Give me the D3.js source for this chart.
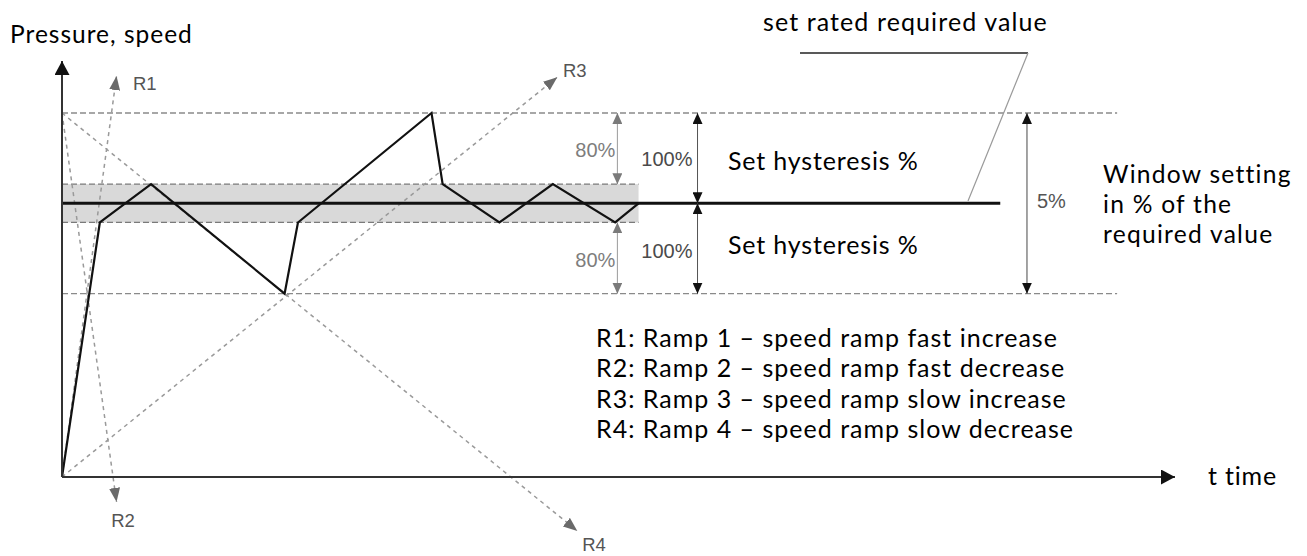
<!DOCTYPE html>
<html>
<head>
<meta charset="utf-8">
<script src="https://cdn.jsdelivr.net/npm/d3@7"></script>
<style>
  html, body { margin: 0; padding: 0; background: #fff; }
  svg { display: block; }
  .lbl { font-family: Lato, "Open Sans", sans-serif; fill: #000; }
  .glbl { font-family: "Liberation Sans", Arial, sans-serif; }
</style>
</head>
<body>
<svg id="chart" width="1307" height="556"></svg>
<script>
// ---------------- data ----------------
const setpoint = 100;                 // rated required value
const windowLevels = [67, 133];       // window (5 %) lower / upper
const hystLevels = [93, 107];         // 80 % hysteresis band lower / upper
const responseT = [0, 3.4, 8.0, 20.0, 21.2, 33.2, 34.2, 39.3, 44.1, 49.7, 51.8];
const responseV = [0, 93, 107, 67, 93, 133, 107, 93, 107, 93, 100];
const rampNames = ["R1", "R2", "R3", "R4"];
const rampStartV = [0, 133, 0, 133];
const rampEndT = [4.9, 4.9, 44.5, 46.3];
const rampEndV = [146.5, -9.1, 146.1, -19.7];
const bandEndT = 51.8;
const setpointEndT = 84.3;
const windowEndT = 94.8;
const arrowT = [49.9, 57.1, 86.7];    // 80 %, 100 %, 5 % dimension arrows
const arrowLabels = ["80%", "100%", "5%"];
const legendLines = [
  "R1: Ramp 1 \u2013 speed ramp fast increase",
  "R2: Ramp 2 \u2013 speed ramp fast decrease",
  "R3: Ramp 3 \u2013 speed ramp slow increase",
  "R4: Ramp 4 \u2013 speed ramp slow decrease"
];
const windowText = ["Window setting", "in % of the", "required value"];
const yTitle = "Pressure, speed";
const xTitle = "t time";
const callout = "set rated required value";
const hystText = "Set hysteresis %";

// ---------------- scales ----------------
const x = d3.scaleLinear().domain([0, 100]).range([62, 1175]);
const y = d3.scaleLinear().domain([0, 152]).range([477, 61]);

const svg = d3.select("#chart");
const defs = svg.append("defs");
function marker(id, color, len, wid) {
  defs.append("marker")
    .attr("id", id)
    .attr("viewBox", `0 0 ${len} ${wid}`)
    .attr("refX", len).attr("refY", wid / 2)
    .attr("markerWidth", len).attr("markerHeight", wid)
    .attr("markerUnits", "userSpaceOnUse")
    .attr("orient", "auto-start-reverse")
    .append("path")
    .attr("d", `M0,0L${len},${wid / 2}L0,${wid}Z`)
    .attr("fill", color);
}
marker("axisArrow", "#111", 14, 15);
marker("rampArrow", "#6a6a6a", 14, 11);
marker("grayArrow", "#7a7a7a", 11, 10);
marker("blackArrow", "#111", 11, 10);

const line = d3.line().x(d => x(d[0])).y(d => y(d[1]));

// hysteresis band
svg.append("rect")
  .attr("x", x(0)).attr("y", y(hystLevels[1]))
  .attr("width", x(bandEndT) - x(0))
  .attr("height", y(hystLevels[0]) - y(hystLevels[1]))
  .attr("fill", "#d9d9d9");

// dashed window lines
windowLevels.forEach(v => {
  svg.append("path").attr("d", line([[0, v], [windowEndT, v]]))
    .attr("stroke", "#8a8a8a").attr("stroke-width", 1.3)
    .attr("stroke-dasharray", "6,3").attr("fill", "none");
});
hystLevels.forEach(v => {
  svg.append("path").attr("d", line([[0, v], [bandEndT, v]]))
    .attr("stroke", "#7a7a7a").attr("stroke-width", 1.3)
    .attr("stroke-dasharray", "6,3").attr("fill", "none");
});

// ramp lines
rampNames.forEach((n, i) => {
  svg.append("path")
    .attr("d", line([[0, rampStartV[i]], [rampEndT[i], rampEndV[i]]]))
    .attr("stroke", "#9a9a9a").attr("stroke-width", 1.5)
    .attr("stroke-dasharray", "4,4").attr("fill", "none")
    .attr("marker-end", "url(#rampArrow)");
});

// setpoint line
svg.append("path").attr("d", line([[0, setpoint], [setpointEndT, setpoint]]))
  .attr("stroke", "#111").attr("stroke-width", 3).attr("fill", "none");

// response zigzag
svg.append("path")
  .attr("d", line(responseT.map((t, i) => [t, responseV[i]])))
  .attr("stroke", "#111").attr("stroke-width", 2.2)
  .attr("stroke-linejoin", "miter").attr("fill", "none");

// axes
svg.append("path").attr("d", line([[0, 0], [0, 152]]))
  .attr("stroke", "#333").attr("stroke-width", 2).attr("fill", "none")
  .attr("marker-end", "url(#axisArrow)");
svg.append("path").attr("d", line([[0, 0], [100, 0]]))
  .attr("stroke", "#333").attr("stroke-width", 2).attr("fill", "none")
  .attr("marker-end", "url(#axisArrow)");

// dimension arrows
function dimArrow(t, v0, v1, color, mk, w) {
  svg.append("path").attr("d", line([[t, v0], [t, v1]]))
    .attr("stroke", color).attr("stroke-width", w).attr("fill", "none")
    .attr("marker-start", `url(#${mk})`).attr("marker-end", `url(#${mk})`);
}
dimArrow(arrowT[0], windowLevels[1], hystLevels[1], "#9a9a9a", "grayArrow", 1);
dimArrow(arrowT[0], hystLevels[0], windowLevels[0], "#9a9a9a", "grayArrow", 1);
dimArrow(arrowT[1], windowLevels[1], setpoint, "#555", "blackArrow", 1);
dimArrow(arrowT[1], setpoint, windowLevels[0], "#555", "blackArrow", 1);
dimArrow(arrowT[2], windowLevels[1], windowLevels[0], "#666", "blackArrow", 1.2);

// dimension labels
const g80 = "#7d7d7d", g100 = "#4a4a4a";
function glabel(px, py, anchor, color, s) {
  svg.append("text").attr("class", "glbl").attr("x", px).attr("y", py)
    .attr("text-anchor", anchor).attr("font-size", 20).attr("fill", color).text(s);
}
glabel(x(arrowT[0]) - 2, 157, "end", g80, arrowLabels[0]);
glabel(x(arrowT[0]) - 2, 267, "end", g80, arrowLabels[0]);
glabel(x(arrowT[1]) - 5, 166, "end", g100, arrowLabels[1]);
glabel(x(arrowT[1]) - 5, 258, "end", g100, arrowLabels[1]);
glabel(x(arrowT[2]) + 10, 208, "start", "#555", arrowLabels[2]);

// ramp labels
const rampLblPos = [[133, 90, "start"], [123, 527, "middle"], [563, 77, "start"], [594, 551, "middle"]];
rampNames.forEach((n, i) => {
  svg.append("text").attr("class", "glbl")
    .attr("x", rampLblPos[i][0]).attr("y", rampLblPos[i][1])
    .attr("text-anchor", rampLblPos[i][2])
    .attr("font-size", 18.5).attr("fill", "#555").text(n);
});

// callout for rated required value
svg.append("path").attr("d", "M800,53H1028")
  .attr("stroke", "#222").attr("stroke-width", 1.4).attr("fill", "none");
svg.append("path").attr("d", "M1028,53L968,201")
  .attr("stroke", "#9a9a9a").attr("stroke-width", 1.2).attr("fill", "none");

// black texts
const fs = 25;
function blabel(px, py, size, ls, s) {
  svg.append("text").attr("class", "lbl").attr("x", px).attr("y", py)
    .attr("font-size", size).attr("letter-spacing", ls).text(s);
}
blabel(10, 43, 24.5, 1.0, yTitle);
blabel(1208, 485, fs, 0.8, xTitle);
blabel(763, 31, fs, 1.1, callout);
blabel(728, 170, fs, 0.85, hystText);
blabel(728, 254, fs, 0.85, hystText);

// multi-line blocks
const wt = svg.append("text").attr("class", "lbl").attr("font-size", 24.6)
  .attr("letter-spacing", 1.25).attr("x", 1103).attr("y", 183);
windowText.forEach((s, i) => {
  wt.append("tspan").attr("x", 1103).attr("dy", i === 0 ? 0 : 30).text(s);
});
const lg = svg.append("text").attr("class", "lbl").attr("font-size", fs)
  .attr("letter-spacing", 1.0).attr("x", 596).attr("y", 347);
legendLines.forEach((s, i) => {
  lg.append("tspan").attr("x", 596).attr("dy", i === 0 ? 0 : 30.3).text(s);
});
</script>
</body>
</html>
